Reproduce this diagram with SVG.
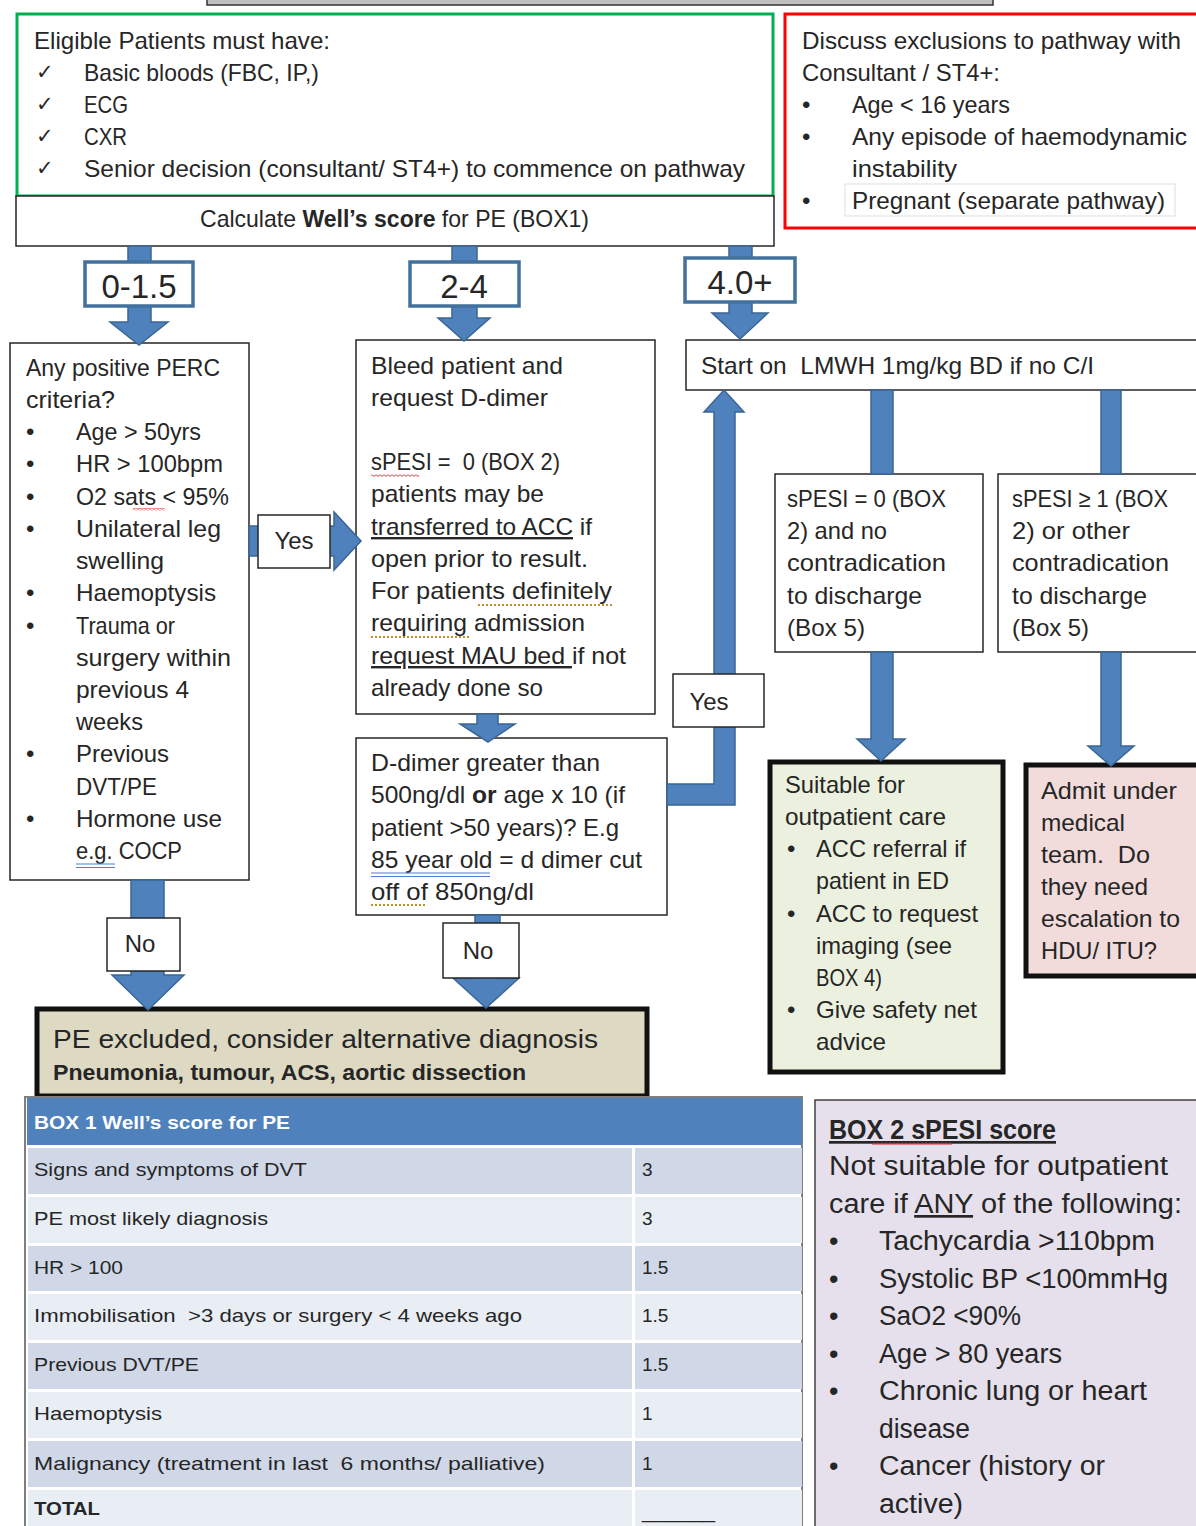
<svg xmlns="http://www.w3.org/2000/svg" width="1196" height="1526" viewBox="0 0 1196 1526">
<style>
.t{font-family:"Liberation Sans",Arial,sans-serif;font-size:24px;fill:#262626;white-space:pre}
.b{font-weight:bold}
.box{fill:#fff;stroke:#262626;stroke-width:1.5}
.arrow{fill:#4f81bd;stroke:#3a6695;stroke-width:1.5}
.lbl{fill:#fff;stroke:#41719c;stroke-width:3.5}
.big{font-size:33px;text-anchor:middle}
.tb{font-size:19px}
.b2{font-size:27px}
.chk{font-family:"DejaVu Sans",sans-serif;font-size:21px;fill:#262626}
.wave{fill:none;stroke:#e02020;stroke-width:1}
.dot{fill:none;stroke:#c09030;stroke-width:2;stroke-dasharray:2 2}
.dbl{fill:none;stroke:#4a7fd0;stroke-width:1.2}
</style>
<defs>
<pattern id="wv" width="4" height="3" patternUnits="userSpaceOnUse"><path d="M0,0.5 L2,2.5 L4,0.5" class="wave"/></pattern>
</defs>
<rect width="1196" height="1526" fill="#fff"/>

<g id="header-bar"><rect x="207" y="-10" width="786" height="15" fill="#bfbfbf" stroke="#333" stroke-width="1.5"/></g>

<g id="eligible">
<rect x="17" y="14" width="756" height="182" fill="#fff" stroke="#00b050" stroke-width="3"/>
<text class="t" x="34" y="49" textLength="296" lengthAdjust="spacingAndGlyphs">Eligible Patients must have:</text>
<text class="chk" x="36" y="79">✓</text><text class="t" x="84" y="81" textLength="235" lengthAdjust="spacingAndGlyphs">Basic bloods (FBC, IP,)</text>
<text class="chk" x="36" y="111">✓</text><text class="t" x="84" y="113" textLength="44" lengthAdjust="spacingAndGlyphs">ECG</text>
<text class="chk" x="36" y="143">✓</text><text class="t" x="84" y="145" textLength="43" lengthAdjust="spacingAndGlyphs">CXR</text>
<text class="chk" x="36" y="175">✓</text><text class="t" x="84" y="177" textLength="661" lengthAdjust="spacingAndGlyphs">Senior decision (consultant/ ST4+) to commence on pathway</text>
</g>

<g id="wells">
<rect class="box" x="16" y="196" width="758" height="50"/>
<text class="t" x="200" y="227" textLength="389" lengthAdjust="spacingAndGlyphs">Calculate <tspan class="b">Well’s score</tspan> for PE (BOX1)</text>
</g>

<g id="exclusions">
<rect x="785" y="14" width="420" height="214" fill="#fff" stroke="#ff0000" stroke-width="3"/>
<rect x="845" y="184" width="330" height="32" fill="none" stroke="#dddddd" stroke-width="1"/>
<text class="t" x="802" y="49" textLength="379" lengthAdjust="spacingAndGlyphs">Discuss exclusions to pathway with</text>
<text class="t" x="802" y="81" textLength="198" lengthAdjust="spacingAndGlyphs">Consultant / ST4+:</text>
<text class="t" x="802" y="113">•</text><text class="t" x="852" y="113" textLength="158" lengthAdjust="spacingAndGlyphs">Age &lt; 16 years</text>
<text class="t" x="802" y="145">•</text><text class="t" x="852" y="145" textLength="335" lengthAdjust="spacingAndGlyphs">Any episode of haemodynamic</text>
<text class="t" x="852" y="177" textLength="105" lengthAdjust="spacingAndGlyphs">instability</text>
<text class="t" x="802" y="209">•</text><text class="t" x="852" y="209" textLength="313" lengthAdjust="spacingAndGlyphs">Pregnant (separate pathway)</text>
</g>

<g id="perc">
<rect class="box" x="10" y="343" width="239" height="537"/>
<text class="t" x="26" y="376" textLength="194" lengthAdjust="spacingAndGlyphs">Any positive PERC</text>
<text class="t" x="26" y="408" textLength="89" lengthAdjust="spacingAndGlyphs">criteria?</text>
<text class="t" x="26" y="440">•</text><text class="t" x="76" y="440" textLength="125" lengthAdjust="spacingAndGlyphs">Age &gt; 50yrs</text>
<text class="t" x="26" y="472">•</text><text class="t" x="76" y="472" textLength="147" lengthAdjust="spacingAndGlyphs">HR &gt; 100bpm</text>
<text class="t" x="26" y="505">•</text><text class="t" x="76" y="505" textLength="153" lengthAdjust="spacingAndGlyphs">O2 sats &lt; 95%</text>
<text class="t" x="26" y="537">•</text><text class="t" x="76" y="537" textLength="145" lengthAdjust="spacingAndGlyphs">Unilateral leg</text>
<text class="t" x="76" y="569" textLength="88" lengthAdjust="spacingAndGlyphs">swelling</text>
<text class="t" x="26" y="601">•</text><text class="t" x="76" y="601" textLength="140" lengthAdjust="spacingAndGlyphs">Haemoptysis</text>
<text class="t" x="26" y="634">•</text><text class="t" x="76" y="634" textLength="99" lengthAdjust="spacingAndGlyphs">Trauma or</text>
<text class="t" x="76" y="666" textLength="155" lengthAdjust="spacingAndGlyphs">surgery within</text>
<text class="t" x="76" y="698" textLength="113" lengthAdjust="spacingAndGlyphs">previous 4</text>
<text class="t" x="76" y="730" textLength="67" lengthAdjust="spacingAndGlyphs">weeks</text>
<text class="t" x="26" y="762">•</text><text class="t" x="76" y="762" textLength="93" lengthAdjust="spacingAndGlyphs">Previous</text>
<text class="t" x="76" y="795" textLength="81" lengthAdjust="spacingAndGlyphs">DVT/PE</text>
<text class="t" x="26" y="827">•</text><text class="t" x="76" y="827" textLength="146" lengthAdjust="spacingAndGlyphs">Hormone use</text>
<text class="t" x="76" y="859" textLength="106" lengthAdjust="spacingAndGlyphs">e.g. COCP</text>
<rect x="133" y="508" width="32" height="3" fill="url(#wv)"/>
<path class="dbl" d="M76,864 H115 M76,867.5 H115"/>
</g>

<g id="bleed">
<rect class="box" x="356" y="340" width="299" height="374"/>
<text class="t" x="371" y="374" textLength="192" lengthAdjust="spacingAndGlyphs">Bleed patient and</text>
<text class="t" x="371" y="406" textLength="177" lengthAdjust="spacingAndGlyphs">request D-dimer</text>
<text class="t" x="371" y="470" textLength="189" lengthAdjust="spacingAndGlyphs">sPESI =  0 (BOX 2)</text>
<text class="t" x="371" y="502" textLength="173" lengthAdjust="spacingAndGlyphs">patients may be</text>
<text class="t" x="371" y="535" textLength="221" lengthAdjust="spacingAndGlyphs"><tspan text-decoration="underline">transferred to ACC</tspan> if</text>
<text class="t" x="371" y="567" textLength="217" lengthAdjust="spacingAndGlyphs">open prior to result.</text>
<text class="t" x="371" y="599" textLength="241" lengthAdjust="spacingAndGlyphs">For patients definitely</text>
<text class="t" x="371" y="631" textLength="214" lengthAdjust="spacingAndGlyphs">requiring admission</text>
<text class="t" x="371" y="664" textLength="255" lengthAdjust="spacingAndGlyphs"><tspan text-decoration="underline">request MAU bed </tspan>if not</text>
<text class="t" x="371" y="696" textLength="172" lengthAdjust="spacingAndGlyphs">already done so</text>
<rect x="371" y="474" width="48" height="3" fill="url(#wv)"/>
<path class="dot" d="M478,605 H612 M371,637 H470"/>
</g>

<g id="ddimer">
<rect class="box" x="356" y="738" width="311" height="177"/>
<text class="t" x="371" y="771" textLength="229" lengthAdjust="spacingAndGlyphs">D-dimer greater than</text>
<text class="t" x="371" y="803" textLength="254" lengthAdjust="spacingAndGlyphs">500ng/dl <tspan class="b">or</tspan> age x 10 (if</text>
<text class="t" x="371" y="836" textLength="248" lengthAdjust="spacingAndGlyphs">patient &gt;50 years)? E.g</text>
<text class="t" x="371" y="868" textLength="271" lengthAdjust="spacingAndGlyphs">85 year old = d dimer cut</text>
<text class="t" x="371" y="900" textLength="163" lengthAdjust="spacingAndGlyphs">off of 850ng/dl</text>
<path class="dbl" d="M371,873 H490 M371,876.5 H490"/>
<path class="dot" d="M371,905 H427"/>
</g>

<g id="lmwh">
<rect class="box" x="686" y="340" width="520" height="50"/>
<text class="t" x="701" y="374" textLength="393" lengthAdjust="spacingAndGlyphs">Start on  LMWH 1mg/kg BD if no C/I</text>
</g>

<g id="spesi0">
<rect class="box" x="775" y="474" width="208" height="178"/>
<text class="t" x="787" y="507" textLength="159" lengthAdjust="spacingAndGlyphs">sPESI = 0 (BOX</text>
<text class="t" x="787" y="539" textLength="100" lengthAdjust="spacingAndGlyphs">2) and no</text>
<text class="t" x="787" y="571" textLength="159" lengthAdjust="spacingAndGlyphs">contradication</text>
<text class="t" x="787" y="604" textLength="135" lengthAdjust="spacingAndGlyphs">to discharge</text>
<text class="t" x="787" y="636" textLength="78" lengthAdjust="spacingAndGlyphs">(Box 5)</text>
</g>

<g id="spesi1">
<rect class="box" x="998" y="474" width="210" height="178"/>
<text class="t" x="1012" y="507" textLength="156" lengthAdjust="spacingAndGlyphs">sPESI ≥ 1 (BOX</text>
<text class="t" x="1012" y="539" textLength="118" lengthAdjust="spacingAndGlyphs">2) or other</text>
<text class="t" x="1012" y="571" textLength="157" lengthAdjust="spacingAndGlyphs">contradication</text>
<text class="t" x="1012" y="604" textLength="135" lengthAdjust="spacingAndGlyphs">to discharge</text>
<text class="t" x="1012" y="636" textLength="77" lengthAdjust="spacingAndGlyphs">(Box 5)</text>
</g>

<g id="outpatient">
<rect x="770" y="762" width="233" height="310" fill="#ebf1de" stroke="#111" stroke-width="5"/>
<text class="t" x="785" y="793" textLength="120" lengthAdjust="spacingAndGlyphs">Suitable for</text>
<text class="t" x="785" y="825" textLength="161" lengthAdjust="spacingAndGlyphs">outpatient care</text>
<text class="t" x="787" y="857">•</text><text class="t" x="816" y="857" textLength="150" lengthAdjust="spacingAndGlyphs">ACC referral if</text>
<text class="t" x="816" y="889" textLength="133" lengthAdjust="spacingAndGlyphs">patient in ED</text>
<text class="t" x="787" y="922">•</text><text class="t" x="816" y="922" textLength="162" lengthAdjust="spacingAndGlyphs">ACC to request</text>
<text class="t" x="816" y="954" textLength="136" lengthAdjust="spacingAndGlyphs">imaging (see</text>
<text class="t" x="816" y="986" textLength="66" lengthAdjust="spacingAndGlyphs">BOX 4)</text>
<text class="t" x="787" y="1018">•</text><text class="t" x="816" y="1018" textLength="161" lengthAdjust="spacingAndGlyphs">Give safety net</text>
<text class="t" x="816" y="1050" textLength="70" lengthAdjust="spacingAndGlyphs">advice</text>
</g>

<g id="admit">
<rect x="1026" y="765" width="190" height="211" fill="#f2dcdb" stroke="#111" stroke-width="5"/>
<text class="t" x="1041" y="799" textLength="136" lengthAdjust="spacingAndGlyphs">Admit under</text>
<text class="t" x="1041" y="831" textLength="84" lengthAdjust="spacingAndGlyphs">medical</text>
<text class="t" x="1041" y="863" textLength="109" lengthAdjust="spacingAndGlyphs">team.  Do</text>
<text class="t" x="1041" y="895" textLength="107" lengthAdjust="spacingAndGlyphs">they need</text>
<text class="t" x="1041" y="927" textLength="139" lengthAdjust="spacingAndGlyphs">escalation to</text>
<text class="t" x="1041" y="959" textLength="116" lengthAdjust="spacingAndGlyphs">HDU/ ITU?</text>
</g>

<g id="excluded">
<rect x="37" y="1009" width="610" height="87" fill="#ddd9c3" stroke="#111" stroke-width="5"/>
<text class="t" x="53" y="1048" style="font-size:26px" textLength="545" lengthAdjust="spacingAndGlyphs">PE excluded, consider alternative diagnosis</text>
<text class="t b" x="53" y="1080" style="font-size:22px" textLength="473" lengthAdjust="spacingAndGlyphs">Pneumonia, tumour, ACS, aortic dissection</text>
</g>

<g id="connectors">
<polygon class="arrow" points="128,246 151,246 151,322 168,322 139,345 110,322 128,322"/>
<polygon class="arrow" points="452,246 477,246 477,318 490,318 464,341 438,318 452,318"/>
<polygon class="arrow" points="729,246 752,246 752,313 768,313 740,339 712,313 729,313"/>
<polygon class="arrow" points="249,526 334,526 334,512 361,541 334,570 334,556 249,556"/>
<polygon class="arrow" points="477,714 498,714 498,724 515,724 488,742 460,724 477,724"/>
<polygon class="arrow" points="667,784 714,784 714,412 704,412 724,390 744,412 735,412 735,805 667,805"/>
<polygon class="arrow" points="871,390 893,390 893,474 871,474"/>
<polygon class="arrow" points="871,652 893,652 893,739 905,739 881,761 857,739 871,739"/>
<polygon class="arrow" points="1101,390 1121,390 1121,474 1101,474"/>
<polygon class="arrow" points="1101,652 1121,652 1121,746 1134,746 1111,766 1088,746 1101,746"/>
<polygon class="arrow" points="131,880 164,880 164,975 184,975 148,1010 112,975 131,975"/>
<polygon class="arrow" points="475,915 500,915 500,978 519,978 486,1008 453,978 475,978"/>
</g>

<g id="label-0-1.5"><rect class="lbl" x="85" y="262" width="108" height="44"/><text class="t big" x="139" y="298">0-1.5</text></g>
<g id="label-2-4"><rect class="lbl" x="410" y="262" width="109" height="44"/><text class="t big" x="464" y="298">2-4</text></g>
<g id="label-4"><rect class="lbl" x="685" y="258" width="110" height="44"/><text class="t big" x="740" y="294">4.0+</text></g>
<g id="yes-perc"><rect class="box" x="258" y="515" width="72" height="53"/><text class="t" x="294" y="549" text-anchor="middle">Yes</text></g>
<g id="yes-ddimer"><rect class="box" x="673" y="674" width="91" height="53"/><text class="t" x="709" y="710" text-anchor="middle">Yes</text></g>
<g id="no-perc"><rect class="box" x="107" y="918" width="73" height="53"/><text class="t" x="140" y="952" text-anchor="middle">No</text></g>
<g id="no-ddimer"><rect class="box" x="443" y="923" width="76" height="55"/><text class="t" x="478" y="959" text-anchor="middle">No</text></g>

<g id="box1-table">
<rect x="25" y="1097" width="777" height="440" fill="#fff" stroke="#7f7f7f" stroke-width="2"/>
<rect x="27" y="1098" width="775" height="47" fill="#4f81bd"/>
<rect x="28" y="1148" width="774" height="46" fill="#d0d8e8"/>
<rect x="28" y="1197" width="774" height="46" fill="#e9edf4"/>
<rect x="28" y="1246" width="774" height="45" fill="#d0d8e8"/>
<rect x="28" y="1294" width="774" height="46" fill="#e9edf4"/>
<rect x="28" y="1343" width="774" height="46" fill="#d0d8e8"/>
<rect x="28" y="1392" width="774" height="46" fill="#e9edf4"/>
<rect x="28" y="1441" width="774" height="46" fill="#d0d8e8"/>
<rect x="28" y="1490" width="774" height="40" fill="#e9edf4"/>
<rect x="632" y="1146" width="3" height="384" fill="#fff"/>
<text class="t b tb" x="34" y="1129" style="fill:#fff;font-size:19px" textLength="256" lengthAdjust="spacingAndGlyphs">BOX 1 Well’s score for PE</text>
<text class="t tb" x="34" y="1176" textLength="273" lengthAdjust="spacingAndGlyphs">Signs and symptoms of DVT</text><text class="t tb" x="642" y="1176">3</text>
<text class="t tb" x="34" y="1225" textLength="234" lengthAdjust="spacingAndGlyphs">PE most likely diagnosis</text><text class="t tb" x="642" y="1225">3</text>
<text class="t tb" x="34" y="1274" textLength="89" lengthAdjust="spacingAndGlyphs">HR &gt; 100</text><text class="t tb" x="642" y="1274">1.5</text>
<text class="t tb" x="34" y="1322" textLength="488" lengthAdjust="spacingAndGlyphs">Immobilisation  &gt;3 days or surgery &lt; 4 weeks ago</text><text class="t tb" x="642" y="1322">1.5</text>
<text class="t tb" x="34" y="1371" textLength="165" lengthAdjust="spacingAndGlyphs">Previous DVT/PE</text><text class="t tb" x="642" y="1371">1.5</text>
<text class="t tb" x="34" y="1420" textLength="128" lengthAdjust="spacingAndGlyphs">Haemoptysis</text><text class="t tb" x="642" y="1420">1</text>
<text class="t tb" x="34" y="1470" textLength="511" lengthAdjust="spacingAndGlyphs">Malignancy (treatment in last  6 months/ palliative)</text><text class="t tb" x="642" y="1470">1</text>
<text class="t b tb" x="34" y="1515" textLength="66" lengthAdjust="spacingAndGlyphs">TOTAL</text><text class="t tb" x="642" y="1518" textLength="73" lengthAdjust="spacingAndGlyphs">______</text>
</g>

<g id="box2-spesi">
<rect x="815" y="1100" width="395" height="440" fill="#e5e0ec" stroke="#404040" stroke-width="1.5"/>
<text class="t b b2" x="829" y="1139" text-decoration="underline" textLength="227" lengthAdjust="spacingAndGlyphs">BOX 2 sPESI score</text>
<text class="t b2" x="829" y="1175" textLength="339" lengthAdjust="spacingAndGlyphs">Not suitable for outpatient</text>
<text class="t b2" x="829" y="1213" textLength="353" lengthAdjust="spacingAndGlyphs">care if <tspan text-decoration="underline">ANY</tspan> of the following:</text>
<text class="t b2" x="829" y="1250">•</text><text class="t b2" x="879" y="1250" textLength="276" lengthAdjust="spacingAndGlyphs">Tachycardia &gt;110bpm</text>
<text class="t b2" x="829" y="1288">•</text><text class="t b2" x="879" y="1288" textLength="289" lengthAdjust="spacingAndGlyphs">Systolic BP &lt;100mmHg</text>
<text class="t b2" x="829" y="1325">•</text><text class="t b2" x="879" y="1325" textLength="142" lengthAdjust="spacingAndGlyphs">SaO2 &lt;90%</text>
<text class="t b2" x="829" y="1363">•</text><text class="t b2" x="879" y="1363" textLength="183" lengthAdjust="spacingAndGlyphs">Age &gt; 80 years</text>
<text class="t b2" x="829" y="1400">•</text><text class="t b2" x="879" y="1400" textLength="268" lengthAdjust="spacingAndGlyphs">Chronic lung or heart</text>
<text class="t b2" x="879" y="1438" textLength="91" lengthAdjust="spacingAndGlyphs">disease</text>
<text class="t b2" x="829" y="1475">•</text><text class="t b2" x="879" y="1475" textLength="226" lengthAdjust="spacingAndGlyphs">Cancer (history or</text>
<text class="t b2" x="879" y="1513" textLength="84" lengthAdjust="spacingAndGlyphs">active)</text>
<rect x="872" y="1142" width="80" height="3" fill="url(#wv)"/>
</g>
</svg>
